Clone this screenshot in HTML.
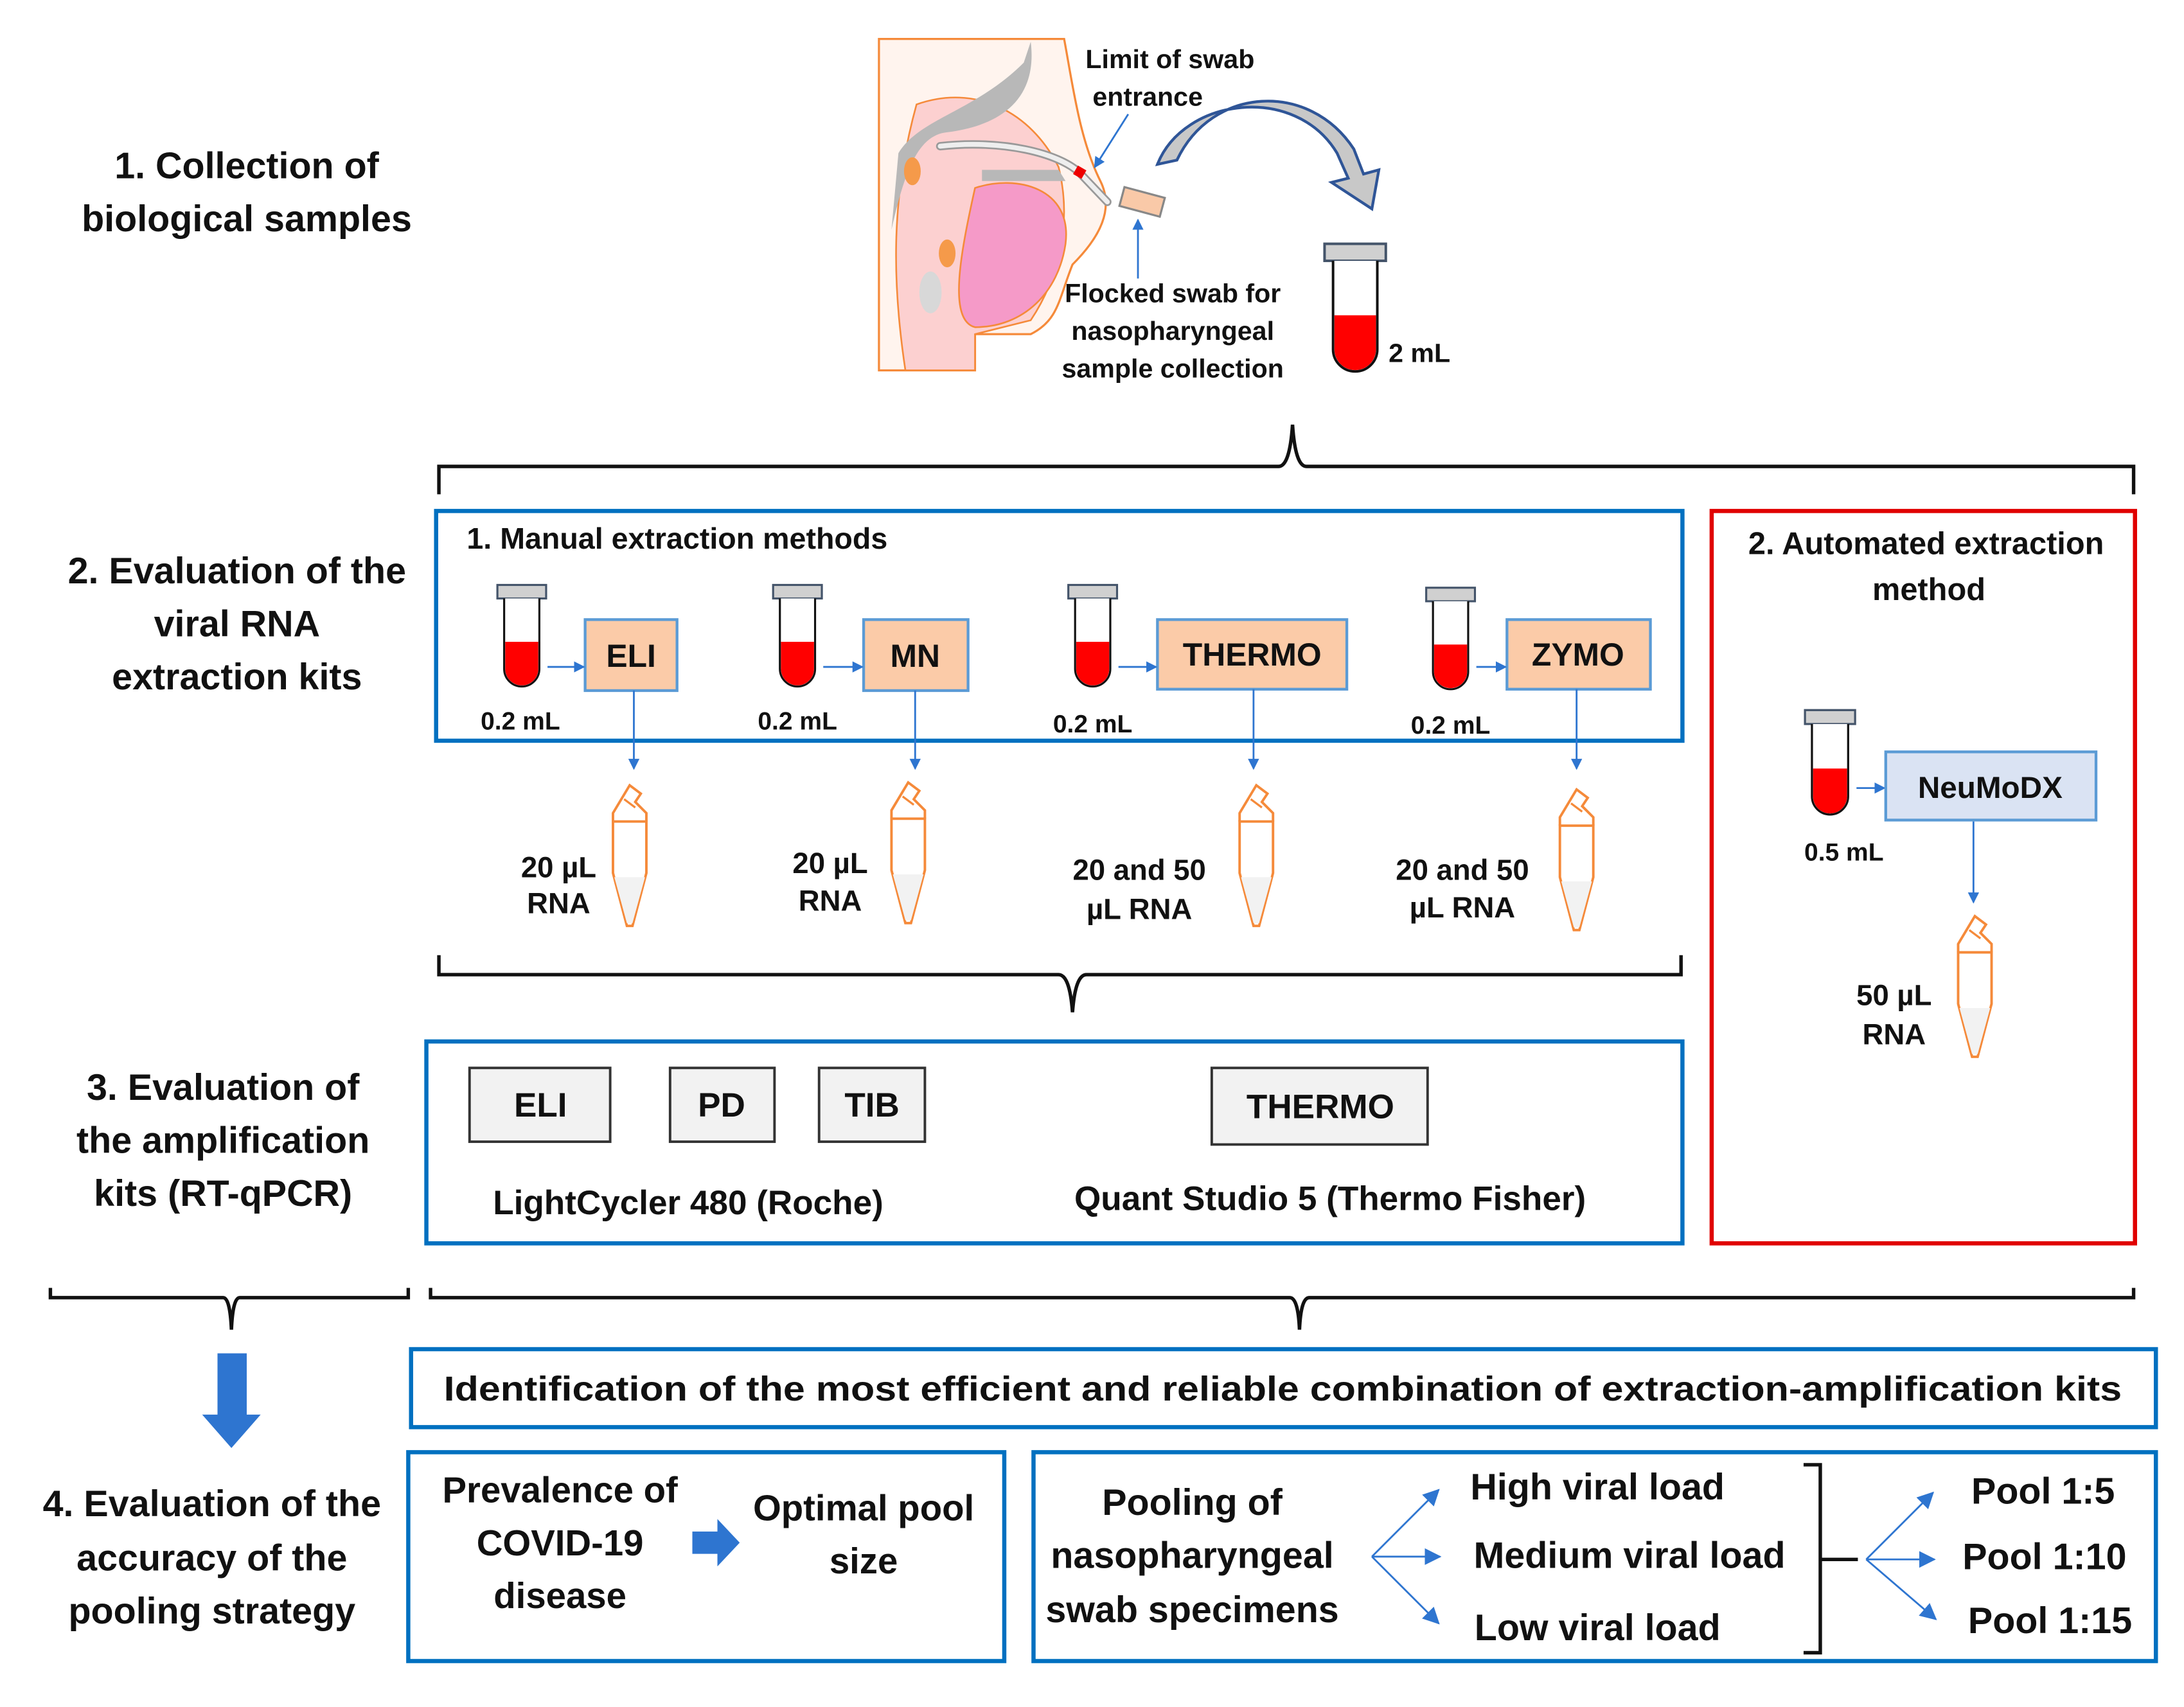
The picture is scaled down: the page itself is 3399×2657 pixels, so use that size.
<!DOCTYPE html>
<html><head><meta charset="utf-8"><style>
html,body{margin:0;padding:0;background:#fff}
svg{display:block}
text{font-family:"Liberation Sans",sans-serif;font-weight:bold;fill:#111}
</style></head><body>
<svg width="3399" height="2657" viewBox="0 0 1568 1226" xmlns="http://www.w3.org/2000/svg">
<defs>
<symbol id="tube" viewBox="0 0 36 80" overflow="visible">
<rect x="0" y="0" width="36" height="10" fill="#d0d0d0" stroke="#44546a" stroke-width="1.5"/>
<path d="M5,10 V62 A13,13 0 0 0 31,62 V10" fill="#fff" stroke="#111" stroke-width="1.5"/>
<path d="M5.8,42 H30.2 V62 A12.2,12.2 0 0 1 5.8,62 Z" fill="#f00"/>
</symbol>
<symbol id="epp" viewBox="0 0 34 105" overflow="visible">
<path d="M6,28 H30 V65 L20,103 H16 L6,65 Z" fill="#fff" stroke="#f58a3a" stroke-width="1.8"/>
<path d="M7,68 H29 L20,101 H16 Z" fill="#f2f2f2"/>
<path d="M6,28 V22 L18,2 L26,8 L22,14 L30,22 V28" fill="none" stroke="#f58a3a" stroke-width="1.8"/>
<path d="M14,12 L22,18" stroke="#f58a3a" stroke-width="1.5"/>
</symbol>
<marker id="ah" markerWidth="8" markerHeight="8" refX="7" refY="4" orient="auto" markerUnits="userSpaceOnUse" viewBox="0 0 8 8">
<path d="M0,0 L8,4 L0,8 Z" fill="#2e75d0"/></marker>
<marker id="ah2" markerWidth="12" markerHeight="12" refX="11" refY="6" orient="auto" markerUnits="userSpaceOnUse" viewBox="0 0 12 12">
<path d="M0,0 L12,6 L0,12 Z" fill="#2e75d0"/></marker>
</defs>

<g font-size="26.5" text-anchor="middle">
<text x="177" y="128">1. Collection of</text>
<text x="177" y="166">biological samples</text>
<text x="170" y="419">2. Evaluation of the</text>
<text x="170" y="457">viral RNA</text>
<text x="170" y="495">extraction kits</text>
<text x="160" y="790">3. Evaluation of</text>
<text x="160" y="828">the amplification</text>
<text x="160" y="866">kits (RT-qPCR)</text>
<text x="152" y="1089">4. Evaluation of the</text>
<text x="152" y="1128">accuracy of the</text>
<text x="152" y="1166">pooling strategy</text>
</g>

<g>
<path d="M631,28 H764 C770,60 775,100 790,130 C800,150 790,170 770,190 C760,215 760,230 740,240 H700 V266 H631 Z" fill="#fff4ee" stroke="#f58a3a" stroke-width="1.5"/>
<path d="M658,75 C700,60 740,80 760,120 C770,160 760,200 740,230 L700,240 V266 H650 C640,200 640,140 658,75 Z" fill="#fcd0d0" stroke="#f58a3a" stroke-width="1.2"/>
<path d="M740,30 C745,70 720,90 680,95 C660,97 650,120 640,165 L645,110 C660,85 700,80 735,45 Z" fill="#b8b8b8"/>
<path d="M700,135 C730,125 770,135 765,175 C760,210 735,235 700,235 C680,230 690,180 700,135 Z" fill="#f59ac8" stroke="#f58a3a" stroke-width="1.2"/>
<path d="M705,122 H760 L765,130 H705 Z" fill="#b8b8b8"/>
<ellipse cx="668" cy="210" rx="8" ry="15" fill="#d8d8d8"/>
<ellipse cx="680" cy="182" rx="6" ry="10" fill="#f59a4a"/>
<ellipse cx="655" cy="123" rx="6" ry="10" fill="#f59a4a"/>
<path d="M675,105 C720,100 760,110 775,124 L795,145" fill="none" stroke="#999" stroke-width="6" stroke-linecap="round"/>
<path d="M675,105 C720,100 760,110 775,124 L795,145" fill="none" stroke="#eee" stroke-width="3.5" stroke-linecap="round"/>
<rect x="772" y="120" width="7" height="7" fill="#e00" transform="rotate(30 775 123)"/>
<rect x="805" y="138" width="30" height="14" fill="#f9c9a8" stroke="#888" stroke-width="1.5" transform="rotate(15 820 145)"/>
</g>
<text x="840" y="49" font-size="19" text-anchor="middle">Limit of swab</text>
<text x="824" y="76" font-size="19" text-anchor="middle">entrance</text>
<line x1="810" y1="82" x2="786" y2="120" stroke="#2e75d0" stroke-width="1.3" marker-end="url(#ah)"/>
<line x1="817" y1="200" x2="817" y2="158" stroke="#2e75d0" stroke-width="1.3" marker-end="url(#ah)"/>
<text x="842" y="217" font-size="19" text-anchor="middle">Flocked swab for</text>
<text x="842" y="244" font-size="19" text-anchor="middle">nasopharyngeal</text>
<text x="842" y="271" font-size="19" text-anchor="middle">sample collection</text>
<path d="M831,118 C850,70 930,60 960,110 L968,128 L956,131 L985,150 L990,122 L979,125 L972,107 C940,58 870,62 845,115 Z" fill="#c8c8c8" stroke="#2f5597" stroke-width="2"/>
<use href="#tube" x="951" y="170" width="44" height="108"/>
<text x="997" y="260" font-size="19">2 mL</text>

<path d="M315,355 V335 H918 Q926,335 928,305 Q930,335 938,335 H1532 V355" fill="none" stroke="#111" stroke-width="2.5"/>

<rect x="313" y="367" width="895" height="165" fill="none" stroke="#0070c0" stroke-width="3"/>
<text x="335" y="394" font-size="21.5">1. Manual extraction methods</text>
<g font-size="18">
<use href="#tube" x="357" y="420" width="35" height="78"/>
<text x="345" y="524">0.2 mL</text>
<use href="#tube" x="555" y="420" width="35" height="78"/>
<text x="544" y="524">0.2 mL</text>
<use href="#tube" x="767" y="420" width="35" height="78"/>
<text x="756" y="526">0.2 mL</text>
<use href="#tube" x="1024" y="422" width="35" height="78"/>
<text x="1013" y="527">0.2 mL</text>
</g>
<g fill="#fbcba8" stroke="#5b9bd5" stroke-width="2">
<rect x="420" y="445" width="66" height="51"/>
<rect x="620" y="445" width="75" height="51"/>
<rect x="831" y="445" width="136" height="50"/>
<rect x="1082" y="445" width="103" height="50"/>
</g>
<g font-size="23" text-anchor="middle">
<text x="453" y="479">ELI</text>
<text x="657" y="479">MN</text>
<text x="899" y="478">THERMO</text>
<text x="1133" y="478">ZYMO</text>
</g>
<g stroke="#2e75d0" stroke-width="1.3" fill="none">
<line x1="393" y1="479" x2="419" y2="479" marker-end="url(#ah)"/>
<line x1="591" y1="479" x2="619" y2="479" marker-end="url(#ah)"/>
<line x1="803" y1="479" x2="830" y2="479" marker-end="url(#ah)"/>
<line x1="1060" y1="479" x2="1081" y2="479" marker-end="url(#ah)"/>
<line x1="455" y1="496" x2="455" y2="552" marker-end="url(#ah)"/>
<line x1="657" y1="496" x2="657" y2="552" marker-end="url(#ah)"/>
<line x1="900" y1="495" x2="900" y2="552" marker-end="url(#ah)"/>
<line x1="1132" y1="495" x2="1132" y2="552" marker-end="url(#ah)"/>
<line x1="1417" y1="590" x2="1417" y2="648" marker-end="url(#ah)"/>
<line x1="1333" y1="566" x2="1353" y2="566" marker-end="url(#ah)"/>
</g>
<use href="#epp" x="434" y="562" width="34" height="105"/>
<use href="#epp" x="634" y="560" width="34" height="105"/>
<use href="#epp" x="884" y="562" width="34" height="105"/>
<use href="#epp" x="1114" y="565" width="34" height="105"/>
<use href="#epp" x="1400" y="656" width="34" height="105"/>
<g font-size="21" text-anchor="middle">
<text x="401" y="630">20 µL</text><text x="401" y="656">RNA</text>
<text x="596" y="627">20 µL</text><text x="596" y="654">RNA</text>
<text x="818" y="632">20 and 50</text><text x="818" y="660">µL RNA</text>
<text x="1050" y="632">20 and 50</text><text x="1050" y="659">µL RNA</text>
<text x="1360" y="722">50 µL</text><text x="1360" y="750">RNA</text>
</g>

<rect x="1229" y="367" width="304" height="526" fill="none" stroke="#e00000" stroke-width="3"/>
<text x="1383" y="398" font-size="22.5" text-anchor="middle">2. Automated extraction</text>
<text x="1385" y="431" font-size="22.5" text-anchor="middle">method</text>
<use href="#tube" x="1296" y="510" width="36" height="80"/>
<rect x="1354" y="540" width="151" height="49" fill="#dae3f3" stroke="#5b9bd5" stroke-width="2"/>
<text x="1429" y="573" font-size="22" text-anchor="middle">NeuMoDX</text>
<text x="1324" y="618" font-size="18" text-anchor="middle">0.5 mL</text>

<path d="M315,686 V700 H760 Q768,700 770,727 Q772,700 780,700 H1207 V686" fill="none" stroke="#111" stroke-width="2.5"/>

<rect x="306" y="748" width="902" height="145" fill="none" stroke="#0070c0" stroke-width="3"/>
<g fill="#f2f2f2" stroke="#333" stroke-width="1.8">
<rect x="337" y="767" width="101" height="53"/>
<rect x="481" y="767" width="75" height="53"/>
<rect x="588" y="767" width="76" height="53"/>
<rect x="870" y="767" width="155" height="55"/>
</g>
<g font-size="24.5" text-anchor="middle">
<text x="388" y="802">ELI</text>
<text x="518" y="802">PD</text>
<text x="626" y="802">TIB</text>
<text x="948" y="803">THERMO</text>
<text x="494" y="872">LightCycler 480 (Roche)</text>
<text x="955" y="869">Quant Studio 5 (Thermo Fisher)</text>
</g>

<path d="M36,925 V932 H160 Q165,932 166,955 Q167,932 172,932 H293 V925" fill="none" stroke="#111" stroke-width="2.5"/>
<path d="M309,925 V932 H926 Q932,932 933,955 Q934,932 940,932 H1532 V925" fill="none" stroke="#111" stroke-width="2.5"/>
<path d="M156,972 H177 V1016 H187 L166,1040 L145,1016 H156 Z" fill="#2e75d0"/>

<rect x="295" y="969" width="1253" height="56" fill="none" stroke="#0070c0" stroke-width="3"/>
<text x="921" y="1006" font-size="25" text-anchor="middle" textLength="1205" lengthAdjust="spacingAndGlyphs">Identification of the most efficient and reliable combination of extraction-amplification kits</text>

<rect x="293" y="1043" width="428" height="150" fill="none" stroke="#0070c0" stroke-width="3"/>
<g font-size="26" text-anchor="middle">
<text x="402" y="1079">Prevalence of</text>
<text x="402" y="1117">COVID-19</text>
<text x="402" y="1155">disease</text>
<text x="620" y="1092">Optimal pool</text>
<text x="620" y="1130">size</text>
</g>
<path d="M497,1100 H515 V1091 L531,1108 L515,1125 V1116 H497 Z" fill="#2e75d0"/>

<rect x="742" y="1043" width="806" height="150" fill="none" stroke="#0070c0" stroke-width="3"/>
<g font-size="26.5" text-anchor="middle">
<text x="856" y="1088">Pooling of</text>
<text x="856" y="1126">nasopharyngeal</text>
<text x="856" y="1165">swab specimens</text>
<text x="1147" y="1077">High viral load</text>
<text x="1170" y="1126">Medium viral load</text>
<text x="1147" y="1178">Low viral load</text>
<text x="1467" y="1080">Pool 1:5</text>
<text x="1468" y="1127">Pool 1:10</text>
<text x="1472" y="1173">Pool 1:15</text>
</g>
<g stroke="#2e75d0" stroke-width="1.3" fill="none">
<line x1="985" y1="1118" x2="1033" y2="1070" marker-end="url(#ah2)"/>
<line x1="985" y1="1118" x2="1034" y2="1118" marker-end="url(#ah2)"/>
<line x1="985" y1="1118" x2="1033" y2="1166" marker-end="url(#ah2)"/>
<line x1="1340" y1="1120" x2="1388" y2="1072" marker-end="url(#ah2)"/>
<line x1="1340" y1="1120" x2="1389" y2="1120" marker-end="url(#ah2)"/>
<line x1="1340" y1="1120" x2="1390" y2="1163" marker-end="url(#ah2)"/>
</g>
<path d="M1295,1052 H1307 V1187 H1295 M1307,1120 H1334" fill="none" stroke="#111" stroke-width="2.5"/>
</svg>
</body></html>
